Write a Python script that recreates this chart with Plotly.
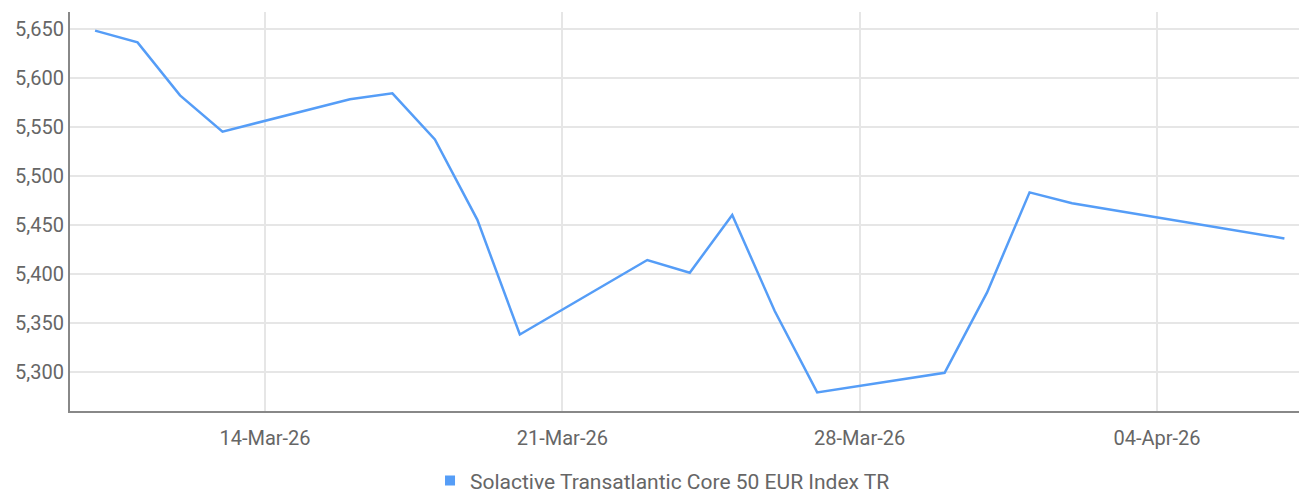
import plotly.graph_objects as go

dates = ["2026-03-10", "2026-03-11", "2026-03-12", "2026-03-13", "2026-03-16",
         "2026-03-17", "2026-03-18", "2026-03-19", "2026-03-20", "2026-03-23",
         "2026-03-24", "2026-03-25", "2026-03-26", "2026-03-27", "2026-03-30",
         "2026-03-31", "2026-04-01", "2026-04-02", "2026-04-07"]
values = [5648, 5636, 5582, 5545, 5578,
          5584, 5537, 5455, 5338, 5414,
          5401, 5460, 5362, 5279, 5299,
          5381, 5483, 5472, 5436]
series_name = "Solactive Transatlantic Core 50 EUR Index TR"
y_ticks = [5300, 5350, 5400, 5450, 5500, 5550, 5600, 5650]
x_ticks = ["2026-03-14", "2026-03-21", "2026-03-28", "2026-04-04"]

line_color = "#559df7"
font_family = "Roboto"
text_color = "#666666"

fig = go.Figure()
fig.add_trace(go.Scatter(x=dates, y=values, mode="lines",
                         line=dict(color=line_color, width=2.5),
                         name=series_name, showlegend=False))
fig.add_trace(go.Scatter(x=[None], y=[None], mode="markers",
                         marker=dict(symbol="square", size=10, color=line_color),
                         name=series_name, showlegend=True))

fig.update_layout(
    width=1299, height=488,
    margin=dict(l=62, r=0, t=4, b=85),
    paper_bgcolor="white", plot_bgcolor="white",
    font=dict(family=font_family, size=20, color=text_color),
    legend=dict(orientation="h", x=0.479, xanchor="center",
                yref="container", y=0.031, yanchor="middle",
                font=dict(size=21, color=text_color), itemwidth=30),
    xaxis=dict(
        range=["2026-03-09 09:50", "2026-04-07 12:45"],
        tickvals=x_ticks, tickformat="%d-%b-%y",
        showgrid=True, gridcolor="#e6e6e6", gridwidth=2,
        showline=True, linecolor="#888888", linewidth=2,
        ticks="", zeroline=False, automargin=False,
        ticklabelstandoff=8,
    ),
    yaxis=dict(
        range=[5260, 5667],
        tickvals=y_ticks, tickformat=",",
        showgrid=True, gridcolor="#e6e6e6", gridwidth=2,
        showline=True, linecolor="#888888", linewidth=2,
        ticks="", zeroline=False, automargin=False,
        tickfont=dict(size=20),
    ),
)

fig.write_html("out.html")
